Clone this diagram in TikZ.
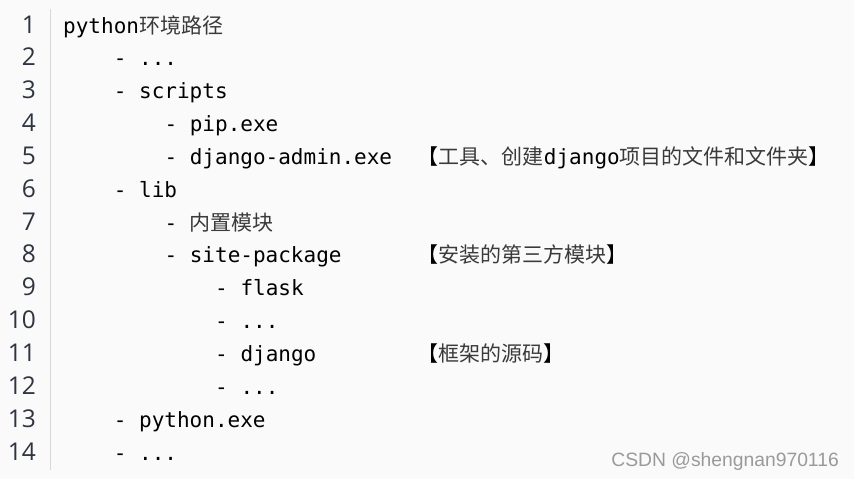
\documentclass[tikz,border=0pt]{standalone}
\usepackage{fontspec}
\newfontfamily\codefont{DejaVu Sans Mono}[WordSpace={1,0,0}]
\newfontfamily\cjk{Noto Sans CJK SC}
\newfontfamily\numfont{Open Sans}
\newfontfamily\markfont{Liberation Sans}
\usetikzlibrary{positioning}

\definecolor{bggray}{HTML}{FAFAFA}
\definecolor{numgray}{HTML}{2E3440}
\definecolor{sepgray}{HTML}{D8D8D8}
\definecolor{markgray}{HTML}{9A9A9A}
\definecolor{zhgray}{HTML}{3A3A3A}

\tikzset{
  codeline/.style={anchor=base west, inner sep=0pt, text=black,
    font=\codefont\fontsize{21}{21}\selectfont},
  remark/.style={codeline},
  lineno/.style={anchor=base east, inner sep=0pt, text=numgray,
    font=\numfont\fontsize{24.5}{24.5}\selectfont},
  sepline/.style={draw=sepgray, line width=1.5pt}
}

% column and row of the listing, in px
\newcommand{\colx}[1]{63+12.67*#1}
\newcommand{\rowy}[1]{33+32.85*(#1-1)}
% chinese words in the listing
\newcommand{\zh}[1]{{\cjk\color{zhgray}#1}}

\begin{document}
\begin{tikzpicture}[x=1pt, y=-1pt]
        % Background
        \fill[bggray] (0,0) rectangle (854,479);
        \useasboundingbox (0,0) rectangle (854,479);

        % Line numbers
        \foreach \n in {1,...,14}
            \node[lineno] (num\n) at (36, {\rowy{\n}}) {\n};

        % Gutter line
        \coordinate (gutter top) at (50.5, 9);
        \coordinate (gutter bottom) at (50.5, 470);
        \draw[sepline] (gutter top) -- (gutter bottom);

        % Code lines
        \node[codeline] (line1) at ({\colx{0}}, {\rowy{1}}) {python\zh{环境路径}};
        \node[codeline] (line2) at ({\colx{4}}, {\rowy{2}}) {- ...};
        \node[codeline] (line3) at ({\colx{4}}, {\rowy{3}}) {- scripts};
        \node[codeline] (line4) at ({\colx{8}}, {\rowy{4}}) {- pip.exe};
        \node[codeline] (line5) at ({\colx{8}}, {\rowy{5}}) {- django-admin.exe};
        \node[codeline] (line6) at ({\colx{4}}, {\rowy{6}}) {- lib};
        \node[codeline] (line7) at ({\colx{8}}, {\rowy{7}}) {- \zh{内置模块}};
        \node[codeline] (line8) at ({\colx{8}}, {\rowy{8}}) {- site-package};
        \node[codeline] (line9) at ({\colx{12}}, {\rowy{9}}) {- flask};
        \node[codeline] (line10) at ({\colx{12}}, {\rowy{10}}) {- ...};
        \node[codeline] (line11) at ({\colx{12}}, {\rowy{11}}) {- django};
        \node[codeline] (line12) at ({\colx{12}}, {\rowy{12}}) {- ...};
        \node[codeline] (line13) at ({\colx{4}}, {\rowy{13}}) {- python.exe};
        \node[codeline] (line14) at ({\colx{4}}, {\rowy{14}}) {- ...};

        % Remarks
        \node[remark] (remark5) at ({\colx{28}}, {\rowy{5}}) {{\cjk 【}\zh{工具、创建}django\zh{项目的文件和文件夹}{\cjk 】}};
        \node[remark] (remark8) at ({\colx{28}}, {\rowy{8}}) {{\cjk 【}\zh{安装的第三方模块}{\cjk 】}};
        \node[remark] (remark11) at ({\colx{28}}, {\rowy{11}}) {{\cjk 【}\zh{框架的源码}{\cjk 】}};

        % Watermark
        \node[anchor=base east, inner sep=0pt, text=markgray,
              font=\markfont\fontsize{19.3}{19.3}\selectfont] (mark) at (839, 466) {CSDN @shengnan970116};
    \end{tikzpicture}
\end{document}
